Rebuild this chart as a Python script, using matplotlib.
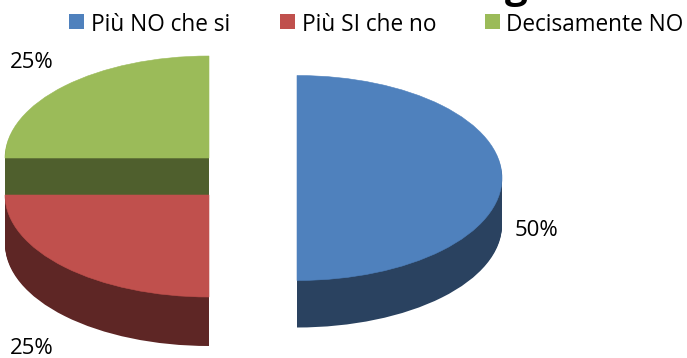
"""
Exploded 3D style pie, drawn in a pixel sized axes.
"""

import matplotlib
matplotlib.use("Agg")
import matplotlib.pyplot as plt
from matplotlib.patches import Wedge, Rectangle

plt.rcParams["font.family"] = ["Open Sans", "DejaVu Sans"]

labels = ["Più NO che si", "Più SI che no", "Decisamente NO"]
values = [50, 25, 25]
top_colors = ["#4F81BD", "#C0504D", "#9BBB59"]
side_colors = ["#2A4260", "#5E2625", "#4F5F2D"]
title = "Giudizio del corso seguito ?"

W, H = 687, 358
# y runs at 2 units per pixel so a circular wedge comes out as the flat ellipse
YS = 2

fig = plt.figure(figsize=(W / 100, H / 100), dpi=100)
ax = fig.add_axes([0, 0, 1, 1])
ax.set_xlim(0, W)
ax.set_ylim(0, H * YS)
ax.axis("off")


def py(y):
    return (H - y) * YS


centers = [(297, 178), (209, 195), (209, 158)]
radii = [205, 204, 204]
depths = [47, 49, 47]
draw_order = [2, 1, 0]

# slice angles, clockwise from twelve o'clock
total = sum(values)
angles = []
start = 90
for v in values:
    end = start - 360 * v / total
    angles.append((end, start))
    start = end

for i in draw_order:
    cx, cy = centers[i]
    a0, a1 = angles[i]
    for d in range(depths[i], 0, -1):
        ax.add_patch(Wedge((cx, py(cy + d)), radii[i], a0, a1,
                           fc=side_colors[i], ec="none"))
    ax.add_patch(Wedge((cx, py(cy)), radii[i], a0, a1, fc=top_colors[i],
                       ec=top_colors[i], lw=0.4))

# legend
legend_x = [69, 280, 485]
text_x = [91, 302, 506]
for i, lab in enumerate(labels):
    ax.add_patch(Rectangle((legend_x[i], py(29)), 15, 15 * YS, fc=top_colors[i], ec="none"))
    ax.text(text_x[i], py(31), lab, fontsize=16.3, va="baseline", ha="left", color="black")

# percent labels
pct_pos = [(515, 231), (10, 349), (10, 63)]
for i, (x, y) in enumerate(pct_pos):
    ax.text(x, py(y), "%d%%" % values[i], fontsize=16, va="center", ha="left", color="black")

ax.text(98, py(-2), title, fontsize=29, fontweight="bold", ha="left", va="baseline")

fig.savefig("out.png", dpi=100)
